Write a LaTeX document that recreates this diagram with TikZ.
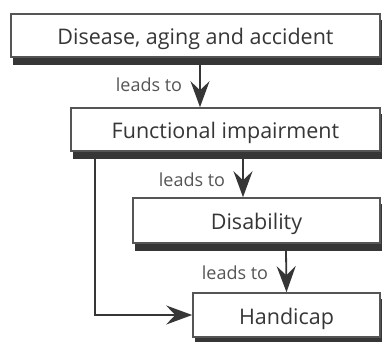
\documentclass[tikz,border=0pt]{standalone}
\usepackage{fontspec}
\setmainfont{Open Sans}
\usetikzlibrary{arrows.meta,backgrounds}
\definecolor{ink}{HTML}{363636}
\definecolor{frame}{HTML}{555555}
\definecolor{soft}{HTML}{555555}
\begin{document}
\begin{tikzpicture}[x=1pt,y=-1pt,
  stage/.style={draw=frame,line width=1.6pt,fill=white,inner sep=0pt,
    text=ink,font=\fontsize{21.5}{24}\selectfont,text height=18pt,text depth=0pt},
  cause/.style={text=soft,font=\fontsize{18}{21}\selectfont,inner sep=0pt},
  arr/.style={draw=ink,line width=1.8pt,
    -{Stealth[length=26pt,width=19pt,inset=9pt]}}]
  \useasboundingbox (0,0) rectangle (382,341);

  % the four stages, top to bottom
  \node[stage,minimum width=369pt,minimum height=43pt] (b1) at (195.5,35.5) {Disease, aging and accident};
  \node[stage,minimum width=309pt,minimum height=43pt] (b2) at (225.5,129.5) {Functional impairment};
  \node[stage,minimum width=247pt,minimum height=45pt] (b3) at (256.5,220.5) {Disability};
  \node[stage,minimum width=187pt,minimum height=44pt] (b4) at (286.5,315) {Handicap};

  % solid drop shadows, offset right and down
  \begin{scope}[on background layer]
    \foreach \b in {b1,b2,b3,b4}
      \fill[ink] ([xshift=3pt,yshift=-7pt]\b.south west) rectangle ([xshift=3pt,yshift=-7pt]\b.north east);
  \end{scope}

  % the labels beside each downward step
  \node[cause] (l1) at (149,85) {leads to};
  \node[cause] (l2) at (192,180) {leads to};
  \node[cause] (l3) at (235,273) {leads to};

  % connectors
  \draw[arr] ([xshift=4.5pt,yshift=-6pt]b1.south) -- ([xshift=-25.5pt]b2.north);
  \draw[arr] ([xshift=17.5pt,yshift=-6pt]b2.south) -- ([xshift=-13.5pt]b3.north);
  \draw[arr] ([xshift=29.5pt,yshift=-6pt]b3.south) -- (b4.north);
  \draw[arr] ([xshift=25pt,yshift=-6pt]b2.south west) |- (b4.west);
\end{tikzpicture}
\end{document}
